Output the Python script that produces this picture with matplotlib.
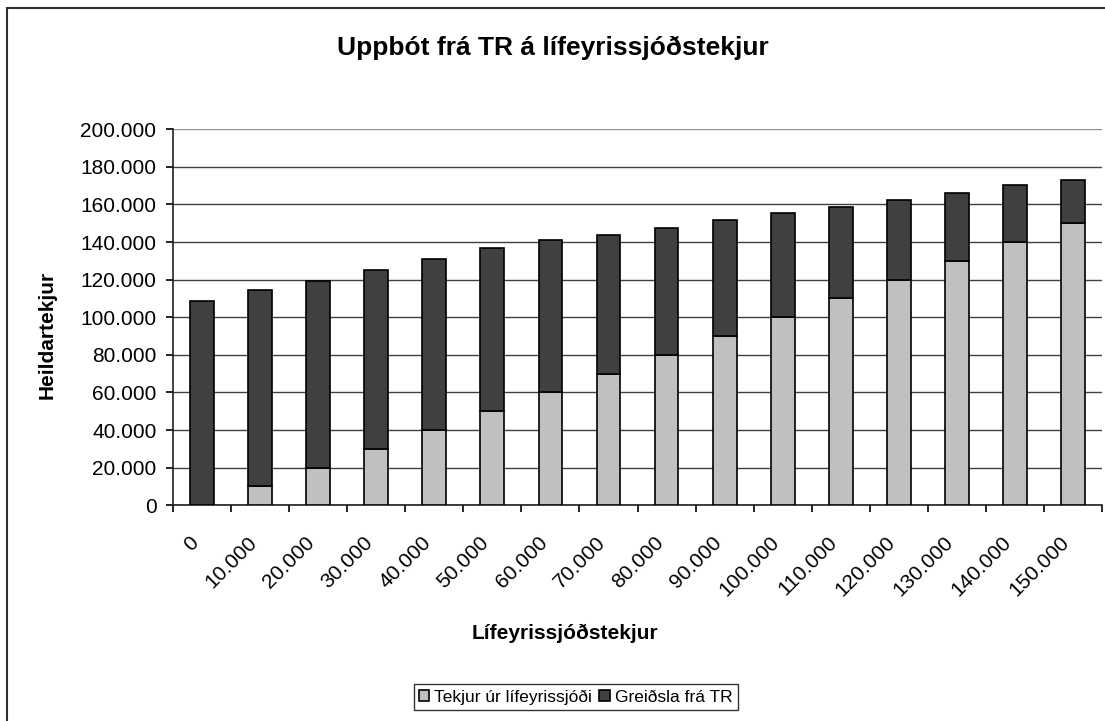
import numpy as np
import matplotlib
matplotlib.use('Agg')
import matplotlib.pyplot as plt
import matplotlib.transforms as mtransforms
from matplotlib.ticker import FuncFormatter, FixedLocator
from matplotlib.patches import Rectangle

plt.rcParams['font.family'] = ['Liberation Sans', 'DejaVu Sans']

# income from pension fund (category labels) and totals
categories = ['0', '10.000', '20.000', '30.000', '40.000', '50.000', '60.000', '70.000',
              '80.000', '90.000', '100.000', '110.000', '120.000', '130.000', '140.000', '150.000']
lifeyrir = [0, 10000, 20000, 30000, 40000, 50000, 60000, 70000,
            80000, 90000, 100000, 110000, 120000, 130000, 140000, 150000]
heild = [108500, 114500, 119300, 125000, 131000, 137000, 141000, 144000,
         147500, 151700, 155500, 158500, 162300, 166300, 170300, 173000]
tr = [h - l for h, l in zip(heild, lifeyrir)]

fig = plt.figure(figsize=(11.05, 7.21), dpi=100)
ax = fig.add_axes([0.1566, 0.2992, 0.8407, 0.5215])

x = np.arange(len(categories))
w = 0.41
ax.bar(x, lifeyrir, w, color='#c0c0c0', edgecolor='black', linewidth=1.2,
       label='Tekjur úr lífeyrissjóði', zorder=3)
ax.bar(x, tr, w, bottom=lifeyrir, color='#404040', edgecolor='black', linewidth=1.2,
       label='Greiðsla frá TR', zorder=3)

ax.set_xlim(-0.5, len(categories) - 0.5)
ax.set_ylim(0, 200000)
ax.set_yticks(np.arange(0, 200001, 20000))
ax.yaxis.set_major_formatter(FuncFormatter(lambda v, p: '{:,.0f}'.format(v).replace(',', '.')))
ax.grid(axis='y', color='#404040', linewidth=1.0, zorder=0)
ax.get_ygridlines()[-1].set_color('#909090')

# ticks between categories, labels at centres
ax.xaxis.set_major_locator(FixedLocator(np.arange(-0.5, len(categories), 1.0)))
ax.xaxis.set_major_formatter(FuncFormatter(lambda v, p: ''))
ax.set_xticks(x, minor=True)
ax.set_xticklabels(categories, minor=True, rotation=45, ha='right', rotation_mode='anchor',
                   fontsize=15)
ax.tick_params(axis='x', which='minor', length=0, pad=20)
ax.tick_params(axis='x', which='major', length=5, width=1.2, direction='out')
ax.tick_params(axis='y', length=5, width=1.2, direction='out', labelsize=15, pad=7)

# nudge rotated labels left so their ends sit just left of the bar centre
shift = mtransforms.ScaledTranslation(-0.13, 0, fig.dpi_scale_trans)
for lab in ax.get_xticklabels(minor=True):
    lab.set_transform(lab.get_transform() + shift)

for s in ['top', 'right']:
    ax.spines[s].set_visible(False)
for s in ['left', 'bottom']:
    ax.spines[s].set_linewidth(1.2)
    ax.spines[s].set_color('#202020')

fig.text(0.5, 0.934, 'Uppbót frá TR á lífeyrissjóðstekjur', ha='center', va='center',
         fontsize=19, fontweight='bold')
fig.text(0.511, 0.122, 'Lífeyrissjóðstekjur', ha='center', va='center',
         fontsize=15, fontweight='bold')
fig.text(0.043, 0.535, 'Heildartekjur', ha='center', va='center', rotation=90,
         fontsize=15, fontweight='bold')

leg = fig.legend(loc='center', bbox_to_anchor=(0.521, 0.0333), ncol=2, fontsize=12.5,
                 frameon=True, fancybox=False, edgecolor='black', handlelength=0.6,
                 handleheight=0.6, handletextpad=0.3, columnspacing=0.4,
                 borderpad=0.3, borderaxespad=0)
leg.get_frame().set_linewidth(1.0)

fig.patches.append(Rectangle((0.006, -0.05), 1.1, 1.039, transform=fig.transFigure,
                             fill=False, edgecolor='#303030', linewidth=1.5))

fig.savefig('out.png', dpi=100)
